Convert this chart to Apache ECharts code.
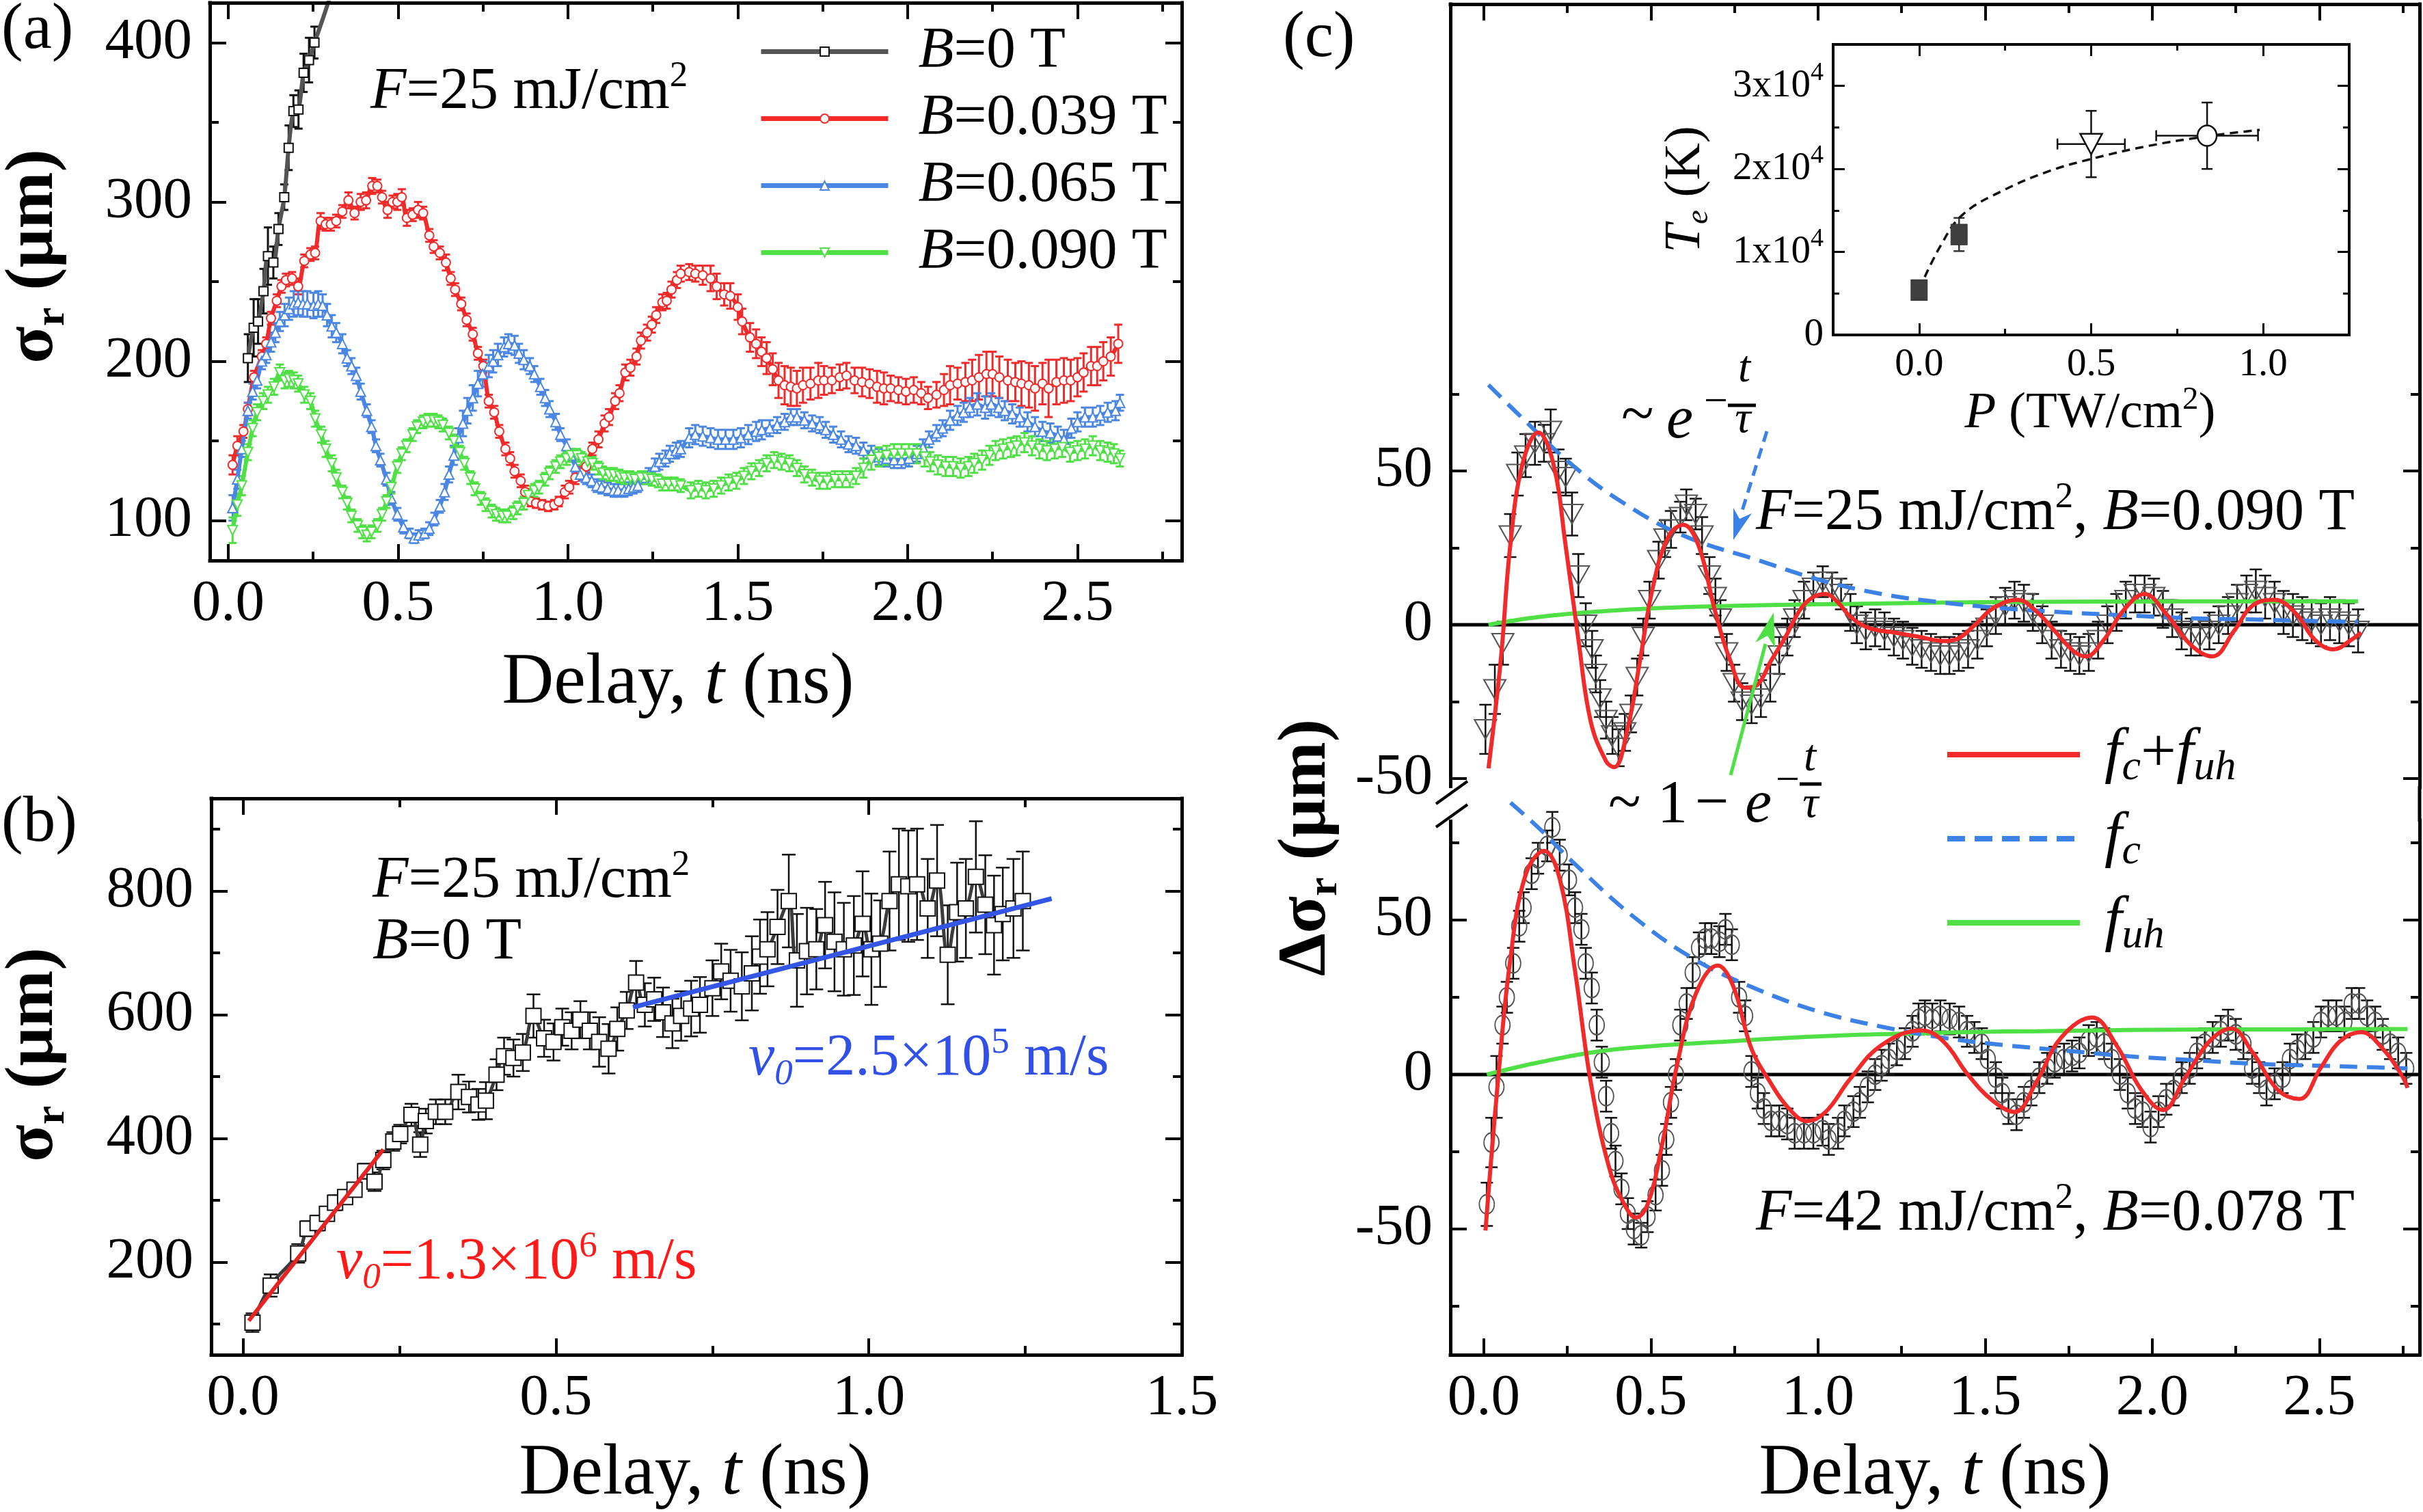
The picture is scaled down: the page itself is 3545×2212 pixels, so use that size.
<!DOCTYPE html>
<html><head><meta charset="utf-8">
<script src="https://cdn.jsdelivr.net/npm/echarts@6/dist/echarts.min.js"></script>
<style>html,body{margin:0;padding:0;background:#fff}#c{width:3545px;height:2212px}</style>
</head><body><div id="c"></div>
<script>
const FONT = 'Liberation Serif, Times New Roman, serif';

// ===== Panel (a): [t (ns), sigma_r (um), error] =====
const aBlack = [[0.058,202,15],[0.075,221,18],[0.088,225,14],[0.104,244,14],[0.117,266,18],[0.133,262,10],[0.148,283,10],[0.165,303,8],[0.178,334,14],[0.192,357,10],[0.207,358,12],[0.222,381,12],[0.238,389,14],[0.254,400,10]];
const aBlackTrend = [[0.254,400],[0.285,419],[0.31,436]];
const aRed = [[0.013,135,6],[0.027,147,6],[0.045,156,4],[0.058,170,4],[0.076,190,4],[0.099,203,4],[0.112,211,4],[0.126,227,4],[0.143,238,4],[0.157,247,4],[0.170,251,4],[0.188,252,4],[0.206,247,5],[0.224,263,4],[0.242,267,4],[0.256,268,4],[0.272,288,5],[0.287,286,4],[0.302,286,4],[0.318,288,4],[0.336,294,4],[0.354,301,5],[0.372,293,4],[0.390,300,5],[0.406,301,5],[0.424,310,5],[0.439,310,4],[0.453,303,4],[0.469,295,5],[0.484,300,4],[0.498,300,5],[0.511,303,5],[0.526,290,5],[0.543,292,4],[0.559,295,5],[0.574,293,4],[0.592,279,4],[0.605,272,4],[0.623,268,4],[0.641,262,5],[0.655,252,4],[0.668,245,4],[0.686,236,4],[0.702,226,4],[0.720,217,4],[0.735,205,4],[0.751,197,4],[0.767,175,4],[0.783,168,4],[0.798,156,4],[0.816,145,4],[0.830,139,4],[0.843,131,4],[0.861,125,4],[0.874,118,4],[0.891,112,3],[0.906,111,3],[0.924,110,3],[0.942,109,3],[0.960,110,3],[0.973,112,3],[0.991,118,4],[1.004,121,4],[1.022,127,4],[1.040,130,4],[1.054,134,4],[1.072,145,4],[1.090,151,5],[1.108,161,5],[1.121,165,5],[1.139,175,5],[1.152,180,5],[1.169,193,5],[1.184,196,5],[1.202,203,5],[1.215,213,5],[1.233,218,5],[1.247,223,5],[1.260,229,5],[1.278,237,5],[1.291,238,5],[1.305,245,5],[1.321,251,5],[1.332,255,5],[1.357,256,5],[1.375,255,5],[1.397,254,6],[1.420,252,8],[1.438,247,8],[1.460,242,7],[1.478,241,8],[1.500,234,8],[1.513,225,8],[1.536,215,9],[1.554,211,9],[1.570,206,9],[1.585,202,10],[1.603,195,10],[1.620,188,11],[1.638,185,12],[1.656,184,12],[1.674,183,11],[1.692,185,11],[1.714,186,10],[1.737,188,11],[1.754,188,9],[1.777,188,8],[1.800,190,8],[1.820,191,8],[1.844,188,8],[1.866,187,9],[1.888,186,9],[1.910,184,10],[1.930,183,10],[1.950,183,8],[1.973,182,8],[1.995,181,8],[2.018,182,8],[2.040,180,7],[2.060,177,7],[2.085,179,8],[2.107,182,10],[2.125,185,12],[2.147,186,10],[2.170,187,12],[2.190,188,13],[2.210,190,14],[2.232,192,14],[2.250,192,14],[2.270,190,13],[2.295,188,13],[2.317,187,12],[2.335,186,14],[2.357,185,14],[2.375,183,14],[2.397,186,13],[2.415,183,18],[2.438,187,14],[2.460,188,14],[2.480,188,13],[2.500,190,12],[2.518,193,12],[2.540,197,12],[2.558,197,12],[2.576,200,12],[2.598,203,12],[2.620,211,12]];
const aBlue = [[0.013,108,8],[0.027,126,6],[0.040,145,5],[0.058,169,5],[0.072,181,5],[0.085,188,5],[0.099,200,5],[0.112,204,5],[0.126,212,6],[0.139,218,6],[0.152,225,6],[0.166,229,7],[0.179,233,7],[0.193,236,8],[0.206,237,8],[0.220,236,8],[0.233,236,8],[0.251,235,8],[0.265,236,8],[0.278,235,7],[0.291,229,7],[0.305,222,7],[0.318,218,6],[0.336,211,6],[0.350,202,5],[0.363,197,5],[0.377,191,5],[0.390,181,5],[0.408,169,4],[0.422,159,4],[0.435,147,4],[0.448,138,4],[0.466,126,4],[0.480,114,4],[0.498,104,4],[0.516,96,4],[0.534,92,3],[0.547,89,3],[0.561,91,3],[0.578,92,3],[0.592,95,4],[0.607,101,4],[0.623,109,4],[0.637,118,5],[0.650,129,5],[0.664,141,6],[0.677,152,6],[0.691,161,8],[0.704,169,8],[0.720,177,8],[0.735,186,8],[0.749,192,8],[0.767,197,7],[0.780,200,7],[0.794,204,7],[0.812,209,6],[0.825,211,6],[0.843,210,6],[0.856,205,6],[0.870,201,6],[0.888,197,5],[0.901,192,5],[0.919,184,5],[0.933,177,5],[0.946,170,5],[0.964,162,5],[0.978,154,4],[0.996,147,4],[1.009,141,4],[1.022,134,4],[1.036,129,4],[1.054,127,4],[1.070,125,4],[1.085,122,4],[1.099,121,4],[1.117,120,4],[1.135,119,4],[1.148,119,4],[1.166,119,4],[1.179,120,4],[1.193,121,4],[1.206,122,4],[1.224,127,4],[1.238,129,4],[1.256,134,5],[1.269,137,5],[1.287,139,5],[1.300,142,5],[1.318,144,5],[1.332,145,5],[1.357,152,6],[1.375,154,6],[1.397,153,6],[1.420,152,6],[1.442,151,6],[1.464,151,6],[1.487,151,6],[1.509,152,6],[1.531,154,6],[1.554,156,6],[1.571,157,6],[1.594,158,5],[1.616,160,5],[1.638,162,5],[1.656,165,5],[1.674,165,5],[1.696,163,5],[1.719,161,5],[1.741,160,5],[1.759,157,5],[1.781,154,5],[1.804,151,5],[1.826,148,5],[1.848,147,5],[1.870,144,5],[1.893,142,5],[1.915,140,5],[1.938,139,5],[1.960,138,5],[1.982,138,5],[2.004,139,5],[2.027,142,5],[2.045,146,5],[2.063,151,5],[2.085,155,5],[2.103,158,5],[2.125,163,6],[2.147,166,6],[2.165,168,6],[2.183,171,6],[2.205,173,7],[2.228,171,7],[2.246,173,7],[2.268,171,6],[2.286,169,6],[2.308,167,6],[2.330,165,6],[2.353,162,6],[2.375,159,6],[2.397,156,6],[2.420,155,6],[2.442,153,6],[2.460,151,6],[2.482,158,6],[2.500,162,6],[2.522,165,6],[2.545,165,6],[2.567,166,6],[2.589,168,6],[2.612,169,6],[2.625,174,5]];
const aGreen = [[0.013,94,8],[0.027,110,7],[0.040,122,6],[0.058,143,5],[0.072,158,5],[0.085,168,5],[0.103,175,5],[0.117,179,5],[0.135,184,5],[0.152,193,5],[0.166,188,5],[0.179,189,5],[0.193,188,5],[0.206,186,5],[0.224,179,5],[0.242,175,5],[0.256,164,5],[0.274,154,5],[0.287,145,5],[0.305,136,5],[0.318,127,5],[0.336,118,4],[0.350,111,4],[0.363,103,4],[0.381,97,4],[0.395,93,4],[0.408,91,4],[0.422,93,4],[0.439,97,4],[0.453,104,4],[0.466,112,4],[0.480,121,4],[0.498,134,4],[0.511,142,4],[0.525,147,4],[0.543,154,4],[0.556,159,4],[0.574,162,4],[0.587,163,4],[0.605,163,4],[0.619,162,4],[0.632,160,4],[0.650,155,4],[0.664,150,4],[0.682,143,4],[0.695,136,4],[0.713,127,4],[0.726,120,4],[0.744,114,4],[0.758,110,4],[0.776,106,4],[0.789,104,4],[0.807,103,4],[0.821,103,4],[0.839,105,4],[0.852,108,4],[0.870,111,4],[0.883,116,4],[0.901,119,4],[0.915,121,4],[0.933,126,4],[0.946,130,4],[0.964,134,4],[0.978,137,4],[0.996,139,4],[1.009,141,4],[1.027,141,4],[1.040,139,4],[1.058,137,4],[1.072,136,4],[1.090,133,4],[1.103,130,4],[1.121,129,4],[1.135,129,4],[1.152,128,4],[1.166,127,4],[1.184,127,4],[1.197,126,4],[1.215,127,4],[1.233,127,4],[1.247,126,4],[1.265,125,4],[1.278,123,4],[1.296,123,4],[1.314,123,4],[1.332,122,4],[1.362,119,5],[1.384,120,5],[1.406,119,5],[1.429,120,5],[1.451,122,5],[1.473,124,5],[1.496,125,5],[1.518,128,5],[1.540,131,5],[1.563,133,5],[1.585,136,5],[1.607,138,5],[1.629,137,5],[1.652,136,5],[1.674,133,5],[1.696,129,5],[1.719,127,5],[1.741,125,5],[1.763,125,5],[1.786,126,5],[1.808,126,5],[1.830,126,5],[1.848,128,5],[1.870,133,6],[1.893,138,6],[1.915,140,6],[1.938,141,6],[1.960,142,6],[1.982,142,6],[2.004,142,6],[2.027,142,6],[2.050,140,6],[2.067,137,6],[2.089,135,6],[2.112,134,6],[2.134,134,6],[2.156,133,6],[2.179,134,6],[2.196,136,6],[2.219,138,6],[2.241,141,6],[2.259,144,6],[2.281,145,6],[2.304,146,6],[2.321,147,6],[2.344,149,6],[2.366,147,6],[2.388,145,6],[2.410,144,6],[2.433,145,6],[2.455,146,6],[2.478,143,6],[2.500,144,6],[2.522,145,6],[2.545,147,6],[2.567,144,6],[2.589,143,6],[2.607,142,6],[2.625,139,5]];

// ===== Panel (b) =====
const bData = [[0.015,102,15],[0.044,162,18],[0.088,214,15],[0.103,254,12],[0.119,263,12],[0.134,278,10],[0.147,296,12],[0.163,305,10],[0.178,317,10],[0.195,347,12],[0.210,330,15],[0.224,365,15],[0.240,395,15],[0.251,407,15],[0.269,438,18],[0.283,390,20],[0.292,428,20],[0.308,443,20],[0.323,443,20],[0.344,475,28],[0.361,467,25],[0.376,455,25],[0.388,461,30],[0.405,503,25],[0.417,533,30],[0.432,530,30],[0.447,539,30],[0.464,598,35],[0.481,562,30],[0.496,556,30],[0.510,580,30],[0.525,574,30],[0.539,592,30],[0.554,574,30],[0.569,556,40],[0.584,545,40],[0.598,577,35],[0.613,607,30],[0.628,652,35],[0.642,616,35],[0.657,625,35],[0.671,604,40],[0.686,586,40],[0.700,598,40],[0.716,610,45],[0.730,616,45],[0.750,643,45],[0.764,670,45],[0.779,655,50],[0.797,646,55],[0.813,667,60],[0.826,694,60],[0.838,706,60],[0.854,742,60],[0.872,784,75],[0.885,688,75],[0.901,703,70],[0.916,706,65],[0.930,745,70],[0.945,718,80],[0.960,706,75],[0.976,712,80],[0.990,747,85],[1.004,706,90],[1.018,715,70],[1.033,784,80],[1.048,811,90],[1.063,808,90],[1.077,811,90],[1.094,772,80],[1.109,817,90],[1.126,697,80],[1.141,766,80],[1.155,772,80],[1.171,823,90],[1.186,778,80],[1.200,745,80],[1.214,763,75],[1.231,772,80],[1.246,784,80]];
const bFitFast = [[0.009,105],[0.224,382]];
const bFitSlow = [[0.623,612],[1.292,788]];

// ===== Panel (c) =====
const cTopData = [[0.005,-34,8],[0.033,-21,8],[0.057,-6,7],[0.079,29,7],[0.101,49,7],[0.125,55,7],[0.153,59,7],[0.180,59,6],[0.200,63,7],[0.223,50,7],[0.245,48,6],[0.264,36,7],[0.283,16,7],[0.305,0,7],[0.324,-8,6],[0.335,-16,6],[0.348,-24,6],[0.366,-31,6],[0.385,-36,6],[0.403,-40,6],[0.422,-35,6],[0.440,-29,6],[0.459,-17,6],[0.477,-4,6],[0.496,8,6],[0.523,21,6],[0.542,28,6],[0.560,31,6],[0.588,35,5],[0.606,39,5],[0.634,36,5],[0.653,29,6],[0.675,16,6],[0.693,9,6],[0.708,2,6],[0.727,-9,6],[0.749,-19,6],[0.773,-25,6],[0.801,-26,6],[0.829,-24,6],[0.857,-19,6],[0.884,-10,6],[0.908,-4,6],[0.930,2,6],[0.958,8,6],[0.986,12,5],[1.014,14,5],[1.042,12,5],[1.069,10,5],[1.097,4,6],[1.116,0,6],[1.143,-2,6],[1.171,-1,6],[1.199,-2,6],[1.227,-4,6],[1.254,-5,6],[1.282,-7,6],[1.310,-8,6],[1.338,-9,6],[1.366,-10,6],[1.393,-10,6],[1.421,-9,6],[1.449,-8,6],[1.477,-5,6],[1.505,-1,6],[1.532,3,6],[1.560,6,6],[1.588,8,6],[1.616,7,6],[1.643,4,6],[1.671,0,6],[1.699,-5,6],[1.727,-8,6],[1.755,-9,6],[1.782,-10,6],[1.810,-9,6],[1.838,-5,6],[1.866,0,6],[1.893,4,6],[1.921,8,6],[1.949,10,6],[1.977,10,6],[2.005,9,6],[2.032,5,6],[2.060,2,6],[2.088,-2,6],[2.116,-4,6],[2.143,-4,6],[2.171,-2,6],[2.199,0,6],[2.227,3,6],[2.254,7,6],[2.282,10,6],[2.310,11,7],[2.338,9,7],[2.366,7,7],[2.393,4,7],[2.421,3,7],[2.449,2,7],[2.477,1,7],[2.505,0,7],[2.532,2,7],[2.560,1,7],[2.588,0,7],[2.616,-2,7]];
const cTopFit = [[0.014,-46.7],[0.051,-11.2],[0.079,25.6],[0.116,52.4],[0.163,62.5],[0.208,52.4],[0.245,25.6],[0.283,-4.8],[0.32,-31.5],[0.366,-44.4],[0.39,-46.3],[0.431,-33.4],[0.468,-11.2],[0.505,11.8],[0.551,28.4],[0.597,32.5],[0.643,25.6],[0.69,5.3],[0.736,-11.2],[0.782,-20.5],[0.819,-19.5],[0.857,-12.2],[0.903,-3.9],[0.949,5.3],[0.986,9],[1.023,10],[1.06,7.2],[1.097,2.6],[1.153,-1.1],[1.227,-2.5],[1.301,-3.9],[1.375,-5.3],[1.412,-4.8],[1.468,-0.2],[1.523,5.3],[1.597,8.1],[1.653,4.4],[1.708,-2],[1.764,-8.5],[1.801,-10.3],[1.856,-4.8],[1.912,4.4],[1.977,10],[2.042,3.5],[2.116,-6.6],[2.18,-10.3],[2.245,-2],[2.301,6.3],[2.366,8.1],[2.431,3.5],[2.486,-4.8],[2.542,-8],[2.597,-4.8],[2.625,-2.5]];
const cTopFc = [[0.014,78],[0.098,69],[0.264,52],[0.412,40],[0.597,29],[0.82,21],[1.005,14.6],[1.19,10],[1.375,7.2],[1.56,5.3],[1.745,4],[1.93,3],[2.116,2.1],[2.301,1.7],[2.486,1.2],[2.616,0.9]];
const cTopFuh = [[0.014,0],[0.171,2.6],[0.356,4.4],[0.542,5.5],[0.727,6.1],[0.912,6.5],[1.097,6.8],[1.375,7.2],[1.745,7.5],[2.116,7.6],[2.616,7.6]];
const cBotData = [[0.009,-42,7],[0.023,-22,8],[0.038,-4,10],[0.056,16,6],[0.069,25,5],[0.088,36,5],[0.106,48,5],[0.119,54,5],[0.143,65,5],[0.162,70,5],[0.190,74,5],[0.205,80,5],[0.227,71,5],[0.255,63,5],[0.273,54,5],[0.292,47,5],[0.305,36,5],[0.323,28,5],[0.338,16,5],[0.353,4,5],[0.366,-7,5],[0.381,-19,5],[0.394,-28,5],[0.412,-37,5],[0.431,-45,5],[0.449,-50,5],[0.471,-52,4],[0.490,-46,5],[0.514,-39,5],[0.533,-31,5],[0.546,-21,5],[0.560,-9,5],[0.575,0,5],[0.588,16,5],[0.607,23,5],[0.625,33,5],[0.644,41,5],[0.662,44,5],[0.681,44,5],[0.705,43,5],[0.723,47,5],[0.742,42,5],[0.764,25,5],[0.782,19,5],[0.801,1,5],[0.820,-6,5],[0.838,-11,5],[0.860,-15,5],[0.884,-15,5],[0.908,-16,5],[0.930,-19,5],[0.958,-19,5],[0.986,-19,5],[1.014,-18,5],[1.032,-21,5],[1.060,-19,5],[1.079,-15,5],[1.106,-12,5],[1.125,-9,5],[1.149,-4,5],[1.171,0,5],[1.190,3,5],[1.212,5,5],[1.236,8,5],[1.260,10,5],[1.283,14,5],[1.301,18,5],[1.320,19,5],[1.342,18,5],[1.366,19,5],[1.394,18,5],[1.422,17,5],[1.446,14,5],[1.468,12,5],[1.490,10,5],[1.508,5,5],[1.532,-1,5],[1.551,-6,5],[1.570,-11,5],[1.594,-13,5],[1.616,-9,5],[1.638,-5,5],[1.662,-1,5],[1.686,2,5],[1.708,4,5],[1.736,5,5],[1.760,6,5],[1.782,7,5],[1.810,11,5],[1.834,12,5],[1.856,10,5],[1.879,5,5],[1.903,0,5],[1.927,-6,5],[1.949,-11,5],[1.971,-12,5],[1.995,-17,5],[2.019,-12,5],[2.042,-8,5],[2.064,-5,5],[2.088,-1,5],[2.112,2,5],[2.134,7,5],[2.157,10,5],[2.181,12,5],[2.205,14,5],[2.227,16,5],[2.250,13,5],[2.273,10,5],[2.299,2,5],[2.320,-1,5],[2.342,-5,5],[2.366,-3,5],[2.390,-1,5],[2.412,5,5],[2.434,8,5],[2.458,10,5],[2.482,12,5],[2.505,17,5],[2.527,19,5],[2.551,19,5],[2.575,17,5],[2.597,23,5],[2.619,23,5],[2.643,19,5],[2.667,17,5],[2.690,13,5],[2.712,10,5],[2.736,7,5],[2.760,2,5]];
const cBotFit = [[0.005,-50.5],[0.042,-2.5],[0.079,37],[0.125,64.6],[0.181,72.4],[0.227,63.4],[0.273,33.5],[0.32,-2.5],[0.375,-30.1],[0.421,-42.1],[0.455,-46.3],[0.49,-42.1],[0.533,-22.9],[0.579,3.5],[0.635,26.3],[0.7,35.3],[0.746,28.7],[0.801,8.3],[0.857,-2.5],[0.912,-10.9],[0.968,-15.1],[1.023,-12.1],[1.097,-1.3],[1.19,9.5],[1.31,14.3],[1.375,10.7],[1.449,-0.1],[1.523,-8.5],[1.588,-12.1],[1.653,-2.5],[1.727,11.9],[1.82,18.5],[1.893,9.5],[1.967,-4.9],[2.032,-11.5],[2.097,-1.3],[2.171,10.7],[2.236,14.9],[2.301,7.1],[2.375,-4.9],[2.44,-7.9],[2.505,2.3],[2.561,10.7],[2.625,13.7],[2.69,8.3],[2.746,-0.1],[2.764,-4.3]];
const cBotFc = [[0.08,88],[0.172,79],[0.264,69],[0.449,51],[0.635,37],[0.82,27.5],[1.005,20.3],[1.19,15.5],[1.375,11.9],[1.56,9.5],[1.745,7.7],[1.93,5.9],[2.116,4.7],[2.301,3.5],[2.486,2.9],[2.671,2.3],[2.764,2]];
const cBotFuh = [[0.009,0],[0.172,4.1],[0.357,7.7],[0.542,9.5],[0.727,10.7],[0.912,11.9],[1.097,12.8],[1.283,13.3],[1.468,13.8],[1.653,14],[1.838,14.3],[2.023,14.5],[2.208,14.6],[2.394,14.6],[2.579,14.7],[2.764,14.7]];
const cZero = [[-0.1,0],[2.8,0]];

// ===== Inset: [P, Te, Perr, Terr] =====
const insetSquares = [[0,5400,0,600],[0.116,12100,0,2000]];
const insetTriangle = [[0.5,23000,0.098,4000]];
const insetCircle = [[0.837,24000,0.148,4000]];
const insetFit = [[0,5500],[0.063,10800],[0.128,14550],[0.244,17400],[0.372,19650],[0.5,21200],[0.67,22800],[0.84,23950],[0.99,24700]];

// ===== ticks =====
const tA_x=[0,0.5,1,1.5,2,2.5], mA_x=[0.25,0.75,1.25,1.75,2.25,2.75];
const tA_y=[100,200,300,400], mA_y=[150,250,350];
const tB_x=[0,0.5,1,1.5], mB_x=[0.25,0.75,1.25];
const tB_y=[200,400,600,800], mB_y=[100,300,500,700,900];
const tC_x=[0,0.5,1,1.5,2,2.5], mC_x=[0.25,0.75,1.25,1.75,2.25,2.75];
const tCt_y=[-50,0,50], mCt_y=[-25,25,75];
const tCb_y=[-50,0,50], mCb_y=[-75,-25,25,75];
const tI_x=[0,0.5,1], mI_x=[0.25,0.75];
const tI_y=[0,10000,20000,30000], mI_y=[5000,15000,25000];

const RED='#F22A2A', BLUE='#4A86E3', GREEN='#4FE045';
const xAxis=[], yAxis=[];
function mk(grid,pos,range,ticks,len,lw,line,label){
  return {type:'value',gridIndex:grid,position:pos,min:range[0],max:range[1],offset:0,
    axisLine:{show:line,onZero:false,lineStyle:{color:'#000',width:lw,cap:'square'}},
    axisTick:{show:true,inside:true,length:len,customValues:ticks,lineStyle:{color:'#000',width:Math.max(3,lw-1)}},
    axisLabel:label?Object.assign({show:true,customValues:ticks,color:'#000',fontFamily:FONT,hideOverlap:false},label):{show:false},
    splitLine:{show:false},minorTick:{show:false},axisPointer:{show:false},z:10};
}
function frame(grid,xr,yr,xt,xm,yt,ym,o){
  const r={}; const L=o.len,l=o.mlen,w=o.lw;
  if(o.bottom!==false){ r.x=xAxis.push(mk(grid,'bottom',xr,xt,L,w,true,o.xl))-1; xAxis.push(mk(grid,'bottom',xr,xm,l,w,false,null)); }
  if(o.top!==false){ const i=xAxis.push(mk(grid,'top',xr,xt,L,w,true,null))-1; if(r.x===undefined) r.x=i; xAxis.push(mk(grid,'top',xr,xm,l,w,false,null)); }
  r.y=yAxis.push(mk(grid,'left',yr,yt,L,w,true,o.yl))-1; yAxis.push(mk(grid,'left',yr,ym,l,w,false,null));
  yAxis.push(mk(grid,'right',yr,yt,L,w,true,null)); yAxis.push(mk(grid,'right',yr,ym,l,w,false,null));
  return r;
}
const fx1=v=>v.toFixed(1), fint=v=>String(v);
const XL={fontSize:85,margin:22,formatter:fx1}, YL={fontSize:85,margin:26,formatter:fint};
const A=frame(0,[-0.054,2.807],[75,425],tA_x,mA_x,tA_y,mA_y,{len:24,mlen:13,lw:5,xl:XL,yl:YL});
const B=frame(1,[-0.051,1.5],[50,950],tB_x,mB_x,tB_y,mB_y,{len:24,mlen:13,lw:5,xl:XL,yl:YL});
const CT=frame(2,[-0.1,2.8],[-52.9,201.8],tC_x,mC_x,tCt_y,mCt_y,{len:24,mlen:13,lw:5,bottom:false,yl:YL});
const CB=frame(3,[-0.1,2.8],[-90.7,82.3],tC_x,mC_x,tCb_y,mCb_y,{len:24,mlen:13,lw:5,top:false,xl:XL,yl:YL});
const IN=frame(4,[-0.25,1.25],[0,35000],tI_x,mI_x,tI_y,mI_y,{len:17,mlen:9,lw:4,
  xl:{fontSize:57,margin:16,formatter:fx1},
  yl:{fontSize:57,margin:14,formatter:v=>v===0?'{n|0}':'{n|'+(v/1e4)+'x10}{s|4}',
      rich:{n:{fontSize:57,fontFamily:FONT,lineHeight:76,color:'#000'},s:{fontSize:38,fontFamily:FONT,lineHeight:36,verticalAlign:'top',color:'#000'}}}});

function errSeries(data,ax,color,cap,lw,z){
  return {type:'custom',xAxisIndex:ax.x,yAxisIndex:ax.y,data:data,z:z||2,silent:true,encode:{x:0,y:1},
    renderItem:function(p,api){
      const x=api.value(0),y=api.value(1),e=api.value(2);
      const a=api.coord([x,y+e]),b=api.coord([x,y-e]),h=cap/2;
      const st=()=>({stroke:color,lineWidth:lw});
      return {type:'group',children:[
        {type:'line',shape:{x1:a[0],y1:a[1],x2:b[0],y2:b[1]},style:st()},
        {type:'line',shape:{x1:a[0]-h,y1:a[1],x2:a[0]+h,y2:a[1]},style:st()},
        {type:'line',shape:{x1:b[0]-h,y1:b[1],x2:b[0]+h,y2:b[1]},style:st()}]};
    }};
}
function errXY(data,ax,color,cap,lw){
  return {type:'custom',xAxisIndex:ax.x,yAxisIndex:ax.y,data:data,z:3,silent:true,encode:{x:0,y:1},
    renderItem:function(p,api){
      const x=api.value(0),y=api.value(1),ex=api.value(2),ey=api.value(3),h=cap/2;
      const st=()=>({stroke:color,lineWidth:lw});
      const ch=[];
      const a=api.coord([x,y+ey]),b=api.coord([x,y-ey]);
      ch.push({type:'line',shape:{x1:a[0],y1:a[1],x2:b[0],y2:b[1]},style:st()});
      ch.push({type:'line',shape:{x1:a[0]-h,y1:a[1],x2:a[0]+h,y2:a[1]},style:st()});
      ch.push({type:'line',shape:{x1:b[0]-h,y1:b[1],x2:b[0]+h,y2:b[1]},style:st()});
      if(ex>0){
        const c=api.coord([x-ex,y]),d=api.coord([x+ex,y]);
        ch.push({type:'line',shape:{x1:c[0],y1:c[1],x2:d[0],y2:d[1]},style:st()});
        ch.push({type:'line',shape:{x1:c[0],y1:c[1]-h,x2:c[0],y2:c[1]+h},style:st()});
        ch.push({type:'line',shape:{x1:d[0],y1:d[1]-h,x2:d[0],y2:d[1]+h},style:st()});
      }
      return {type:'group',children:ch};
    }};
}
function dataLine(name,data,ax,color,sym,size,lineColor,lw,extra){
  return Object.assign({type:'line',name:name,data:data,xAxisIndex:ax.x,yAxisIndex:ax.y,
    symbol:sym,symbolSize:size,showSymbol:true,showAllSymbol:true,smooth:0.3,z:4,
    itemStyle:{color:color,borderWidth:2.5},lineStyle:{color:lineColor,width:lw},emphasis:{disabled:true}},extra||{});
}
function fit(name,data,ax,color,lw,dash,z,extra){
  return Object.assign({type:'line',name:name,data:data,xAxisIndex:ax.x,yAxisIndex:ax.y,symbol:'none',smooth:0.4,z:z||6,
    lineStyle:{color:color,width:lw,type:dash?[26,14]:'solid'},itemStyle:{color:color},emphasis:{disabled:true}},extra||{});
}
function scat(data,ax,sym,size,rot,fill,stroke,bw,z){
  return {type:'scatter',data:data,xAxisIndex:ax.x,yAxisIndex:ax.y,symbol:sym,symbolSize:size,symbolRotate:rot||0,z:z||5,
    itemStyle:{color:fill,borderColor:stroke,borderWidth:bw,opacity:1},emphasis:{disabled:true},silent:true};
}

const series=[
  errSeries(aBlack,A,'#111',12,3),
  errSeries(aRed,A,RED,12,3),
  errSeries(aBlue,A,BLUE,12,3),
  errSeries(aGreen,A,GREEN,12,3),
  fit('blackTrend',aBlackTrend,A,'#555',6,false,3),
  dataLine('B=0 T',aBlack,A,'#111','emptyRect',13,'#555',6),
  dataLine('B=0.039 T',aRed,A,RED,'emptyCircle',13,RED,6),
  dataLine('B=0.065 T',aBlue,A,BLUE,'emptyTriangle',14,BLUE,6),
  dataLine('B=0.090 T',aGreen,A,GREEN,'emptyTriangle',14,GREEN,6,{symbolRotate:180}),
  errSeries(bData,B,'#111',20,2.5),
  dataLine('bData',bData,B,'#111','emptyRect',22,'#3c3c3c',5,{smooth:0.4,itemStyle:{color:'#111',borderWidth:2}}),
  fit('bFast',bFitFast,B,'#E82222',6,false,7,{smooth:false}),
  fit('bSlow',bFitSlow,B,'#3456E6',7,false,7,{smooth:false}),
  fit('zeroTop',cZero,CT,'#000',5,false,1,{smooth:false}),
  fit('zeroBot',cZero,CB,'#000',5,false,1,{smooth:false}),
  errSeries(cTopData,CT,'#111',18,2.5,3),
  scat(cTopData,CT,'triangle',[32,28],180,'rgba(0,0,0,0)','#555',2,4),
  errSeries(cBotData,CB,'#111',18,2.5,3),
  scat(cBotData,CB,'circle',[22,28],0,'rgba(0,0,0,0)','#555',2,4),
  fit('fuh',cTopFuh,CT,GREEN,6,false,6),
  fit('fc',cTopFc,CT,'#3C82E6',6,true,6),
  fit('fc+fuh',cTopFit,CT,RED,6,false,7),
  fit('fuh',cBotFuh,CB,GREEN,6,false,6),
  fit('fc',cBotFc,CB,'#3C82E6',6,true,6,{clip:false}),
  fit('fc+fuh',cBotFit,CB,RED,6,false,7),
  fit('insetFit',insetFit,IN,'#111',3.5,false,3,{lineStyle:{color:'#111',width:3.5,type:[12,8]}}),
  errXY(insetSquares,IN,'#333',16,2.5),
  errXY(insetTriangle,IN,'#111',16,2.5),
  errXY(insetCircle,IN,'#111',16,2.5),
  scat(insetSquares,IN,'rect',[24,30],0,'#3f3f3f','#333',1,5),
  scat(insetTriangle,IN,'triangle',[32,30],180,'#fff','#111',2.5,5),
  scat(insetCircle,IN,'circle',[28,30],0,'#fff','#111',2.5,5)
];

function rich(fs,color){
  const b={fontFamily:FONT,fontSize:fs,lineHeight:Math.round(fs*1.15)};
  const s=Math.round(fs*0.62);
  const sm={fontFamily:FONT,fontSize:s,lineHeight:s};
  const o={n:Object.assign({},b),i:Object.assign({fontStyle:'italic'},b),b:Object.assign({fontWeight:'bold'},b),
    sup:Object.assign({verticalAlign:'top'},sm),sub:Object.assign({verticalAlign:'bottom'},sm),
    isub:Object.assign({verticalAlign:'bottom',fontStyle:'italic'},sm),
    bsub:Object.assign({verticalAlign:'bottom',fontWeight:'bold'},sm)};
  if(color) for(const k in o) o[k].color=color, o[k].fill=color;
  return o;
}
function T(x,y,text,fs,o){
  o=o||{};
  return {type:'text',x:x,y:y,rotation:o.rot||0,z:100,silent:true,
    style:{text:text,rich:rich(fs,o.fill),fill:o.fill||'#000',fontFamily:FONT,fontSize:fs,
      fontWeight:o.bold?'bold':'normal',fontStyle:o.italic?'italic':'normal',
      textAlign:o.align||'left',align:o.align||'left',textVerticalAlign:'middle',verticalAlign:'middle'}};
}
function L(x1,y1,x2,y2,color,w,dash){
  return {type:'line',z:100,silent:true,shape:{x1:x1,y1:y1,x2:x2,y2:y2},style:{stroke:color,lineWidth:w,lineDash:dash||null}};
}
const graphic=[
  T(2,45,'{n|(a)}',95), T(2,1205,'{n|(b)}',95), T(1877,57,'{n|(c)}',95),
  T(50,375,'{b|σ}{bsub|r}{b| (μm)}',100,{rot:Math.PI/2,align:'center'}),
  T(50,1543,'{b|σ}{bsub|r}{b| (μm)}',100,{rot:Math.PI/2,align:'center'}),
  T(1912,1240,'{b|Δσ}{bsub|r}{b| (μm)}',100,{rot:Math.PI/2,align:'center'}),
  T(992,1000,'{n|Delay, }{i|t}{n| (ns)}',105,{align:'center'}),
  T(1017,2157,'{n|Delay, }{i|t}{n| (ns)}',105,{align:'center'}),
  T(2831,2157,'{n|Delay, }{i|t}{n| (ns)}',105,{align:'center'}),
  T(542,135,'{i|F}{n|=25 mJ/cm}{sup|2}',86),
  T(545,1289,'{i|F}{n|=25 mJ/cm}{sup|2}',86),
  T(545,1379,'{i|B}{n|=0 T}',86),
  T(492,1847,'{i|v}{isub|0}{n|=1.3×10}{sup|6}{n| m/s}',86,{fill:'#FF1A1A'}),
  T(1095,1549,'{i|v}{isub|0}{n|=2.5×10}{sup|5}{n| m/s}',86,{fill:'#3050E8'}),
  T(2569,751,'{i|F}{n|=25 mJ/cm}{sup|2}{n|, }{i|B}{n|=0.090 T}',86),
  T(2569,1776,'{i|F}{n|=42 mJ/cm}{sup|2}{n|, }{i|B}{n|=0.078 T}',86),
  T(3058,605,'{i|P}{n| (TW/cm}{sup|2}{n|)}',75,{align:'center'}),
  T(2466,277,'{i|T}{isub|e}{n| (K)}',75,{rot:Math.PI/2,align:'center'}),
  // ~ e^(-t/tau)
  T(2372,611,'{n|~}',88), T(2438,617,'{i|e}',88),
  T(2493,590,'{n|−}',62), L(2528,593,2569,593,'#000',5),
  T(2552,541,'{i|t}',65,{align:'center'}), T(2550,615,'{i|τ}',65,{align:'center'}),
  // ~ 1 - e^(-t/tau)
  T(2353,1179,'{n|~}',88), T(2425,1179,'{n|1}',88), T(2480,1178,'{n|−}',88), T(2553,1179,'{i|e}',88),
  T(2598,1144,'{n|−}',62), L(2633,1147,2665,1147,'#000',5),
  T(2648,1110,'{i|t}',65,{align:'center'}), T(2649,1178,'{i|τ}',65,{align:'center'}),
  // arrows
  L(2585,631,2549,747,'#3C82E6',5,[16,10]),
  {type:'polygon',z:100,silent:true,shape:{points:[[2536,790],[2563,751],[2545,759],[2536,743]]},style:{fill:'#3C82E6'}},
  L(2532,1134,2583,942,GREEN,5),
  {type:'polygon',z:100,silent:true,shape:{points:[[2595,896],[2597,948],[2586,930],[2568,940]]},style:{fill:GREEN}},
  // axis break marks and right frame continuation
  {type:'rect',z:99,silent:true,shape:{x:2110,y:1153,width:24,height:46},style:{fill:'#fff'}},
  L(2101,1176,2147,1143,'#000',4), L(2101,1210,2147,1177,'#000',4),
  L(3540,1150,3540,1202,'#000',5)
];

const chart=echarts.init(document.getElementById('c'),null,{renderer:'canvas',width:3545,height:2212});
chart.setOption({
  animation:false, backgroundColor:'#fff',
  textStyle:{fontFamily:FONT},
  grid:[{left:307,top:4,width:1422,height:816},{left:309,top:1168,width:1420,height:814},
        {left:2122,top:6,width:1418,height:1146},{left:2122,top:1200,width:1418,height:782},
        {left:2682,top:65,width:755,height:425}],
  xAxis:xAxis, yAxis:yAxis,
  legend:[
    {data:['B=0 T','B=0.039 T','B=0.065 T','B=0.090 T'],orient:'vertical',left:1110,top:33,padding:0,
     itemWidth:186,itemHeight:16,itemGap:13,selectedMode:false,
     lineStyle:{width:7},
     formatter:n=>'{i|B}{n|'+n.slice(1)+'}',
     textStyle:{color:'#000',fontFamily:FONT,fontSize:85,padding:[0,0,0,39],
       rich:{i:{fontStyle:'italic',fontSize:85,fontFamily:FONT,lineHeight:90,color:'#000'},n:{fontSize:85,fontFamily:FONT,lineHeight:90,color:'#000'}}}},
    {data:['fc+fuh','fc','fuh'],orient:'vertical',left:2845,top:1058,padding:0,
     itemWidth:194,itemHeight:10,itemGap:26,selectedMode:false,
     itemStyle:{opacity:0,borderWidth:0},lineStyle:{width:8},
     formatter:n=>({'fc+fuh':'{i|f}{s|c}{n|+}{i|f}{s|uh}','fc':'{i|f}{s|c}','fuh':'{i|f}{s|uh}'})[n],
     textStyle:{color:'#000',fontFamily:FONT,fontSize:92,padding:[0,0,0,31],
       rich:{i:{fontStyle:'italic',fontSize:92,fontFamily:FONT,lineHeight:102,color:'#000'},
             n:{fontSize:92,fontFamily:FONT,lineHeight:102,color:'#000'},
             s:{fontStyle:'italic',fontSize:62,fontFamily:FONT,lineHeight:56,verticalAlign:'bottom',color:'#000'}}}}
  ],
  series:series,
  graphic:graphic
});
</script></body></html>
